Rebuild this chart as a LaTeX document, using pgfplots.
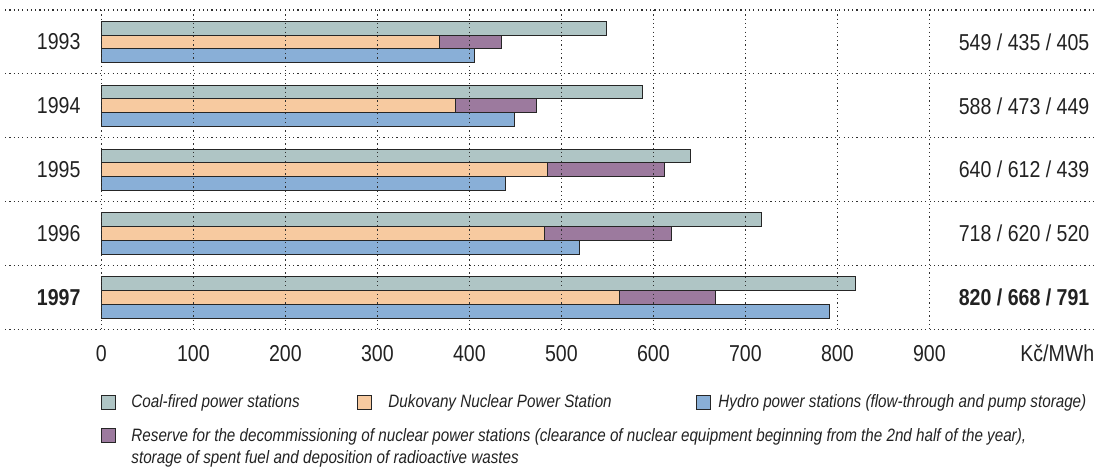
\documentclass[border=0pt]{standalone}
\usepackage{fontspec}
\setmainfont{Liberation Sans}[FakeStretch=0.85]
\usepackage{pgfplots}
\usepackage{pgfplotstable}
\pgfplotsset{compat=1.18}

\definecolor{coal}{HTML}{AFC5C5}
\definecolor{nuke}{HTML}{F7CAA0}
\definecolor{reserve}{HTML}{9C7A9E}
\definecolor{hydro}{HTML}{89AFD7}
\definecolor{edge}{HTML}{262626}
\definecolor{dots}{HTML}{303030}
\definecolor{txt}{HTML}{222222}

% Average price of electricity by source, Kc/MWh
% total = Dukovany incl. reserve for decommissioning
\pgfplotstableread{
idx coal nuclear total hydro
0   549  368     435   405
1   588  385     473   449
2   640  485     612   439
3   718  482     620   520
4   820  563     668   791
}\prices

\newcommand\tickfont{\fontsize{23bp}{27bp}\selectfont}
\newcommand\legfont{\fontsize{17.9bp}{22bp}\selectfont\itshape}

\begin{document}
\begin{tikzpicture}[x=1bp,y=1bp, every node/.style={text=txt}]
\useasboundingbox (0,0) rectangle (1094,-474);
\begin{axis}[
  at={(5bp,-10bp)}, anchor=north west,
  x=0.92bp, y=63.9bp,
  xmin=-104.8, xmax=1078.9,
  ymin=-0.5, ymax=4.5, y dir=reverse,
  axis line style={draw=none},
  major tick length=0pt, minor tick length=0pt,
  axis on top,
  xtick={0,100,...,900},
  extra x ticks={1039},
  extra x tick labels={Kč/MWh},
  extra x tick style={grid=none},
  ytick={0,1,2,3,4},
  yticklabels={1993,1994,1995,1996,\textbf{1997}},
  minor ytick={-0.5,0.5,1.5,2.5,3.5,4.5},
  xmajorgrids, yminorgrids,
  major grid style={dots, line width=1.1bp, dash pattern=on 1.2bp off 3.1bp},
  minor grid style={dots, line width=1.1bp, dash pattern=on 1.2bp off 3.1bp},
  ticklabel style={font=\tickfont, text=txt},
  xticklabel style={yshift=-12bp},
  yticklabel style={anchor=east, xshift=79bp},
  /pgf/number format/assume math mode=true,
  xbar, bar width=0.216,
  every axis plot/.append style={draw=edge, line width=1bp},
]
\addplot[fill=coal, bar shift=-0.216] table[x=coal, y=idx] {\prices};
\addplot[fill=reserve, bar shift=0] table[x=total, y=idx] {\prices};
\addplot[fill=nuke, bar shift=0] table[x=nuclear, y=idx] {\prices};
\addplot[fill=hydro, bar shift=0.216] table[x=hydro, y=idx] {\prices};

\node[anchor=east, inner sep=0pt, font=\tickfont] at (axis cs:1074,0) {549 / 435 / 405};
\node[anchor=east, inner sep=0pt, font=\tickfont] at (axis cs:1074,1) {588 / 473 / 449};
\node[anchor=east, inner sep=0pt, font=\tickfont] at (axis cs:1074,2) {640 / 612 / 439};
\node[anchor=east, inner sep=0pt, font=\tickfont] at (axis cs:1074,3) {718 / 620 / 520};
\node[anchor=east, inner sep=0pt, font=\tickfont\bfseries] at (axis cs:1074,4) {820 / 668 / 791};
\end{axis}

% legend
\begin{scope}[line width=0.9bp]
\draw[edge, fill=coal] (101.5,-395) rectangle ++(14,-14);
\node[anchor=base west, inner sep=0pt, font=\legfont] at (131,-408) {Coal-fired power stations};
\draw[edge, fill=nuke] (357.5,-395) rectangle ++(14,-14);
\node[anchor=base west, inner sep=0pt, font=\legfont] at (388,-408) {Dukovany Nuclear Power Station};
\draw[edge, fill=hydro] (696.5,-395) rectangle ++(14,-14);
\node[anchor=base west, inner sep=0pt, font=\legfont] at (718,-408) {Hydro power stations (flow-through and pump storage)};
\draw[edge, fill=reserve] (101.5,-428) rectangle ++(14,-14);
\node[anchor=base west, inner sep=0pt, font=\legfont] at (131,-441) {Reserve for the decommissioning of nuclear power stations (clearance of nuclear equipment beginning from the 2nd half of the year),};
\node[anchor=base west, inner sep=0pt, font=\legfont] at (131,-463) {storage of spent fuel and deposition of radioactive wastes};
\end{scope}
\end{tikzpicture}
\end{document}
